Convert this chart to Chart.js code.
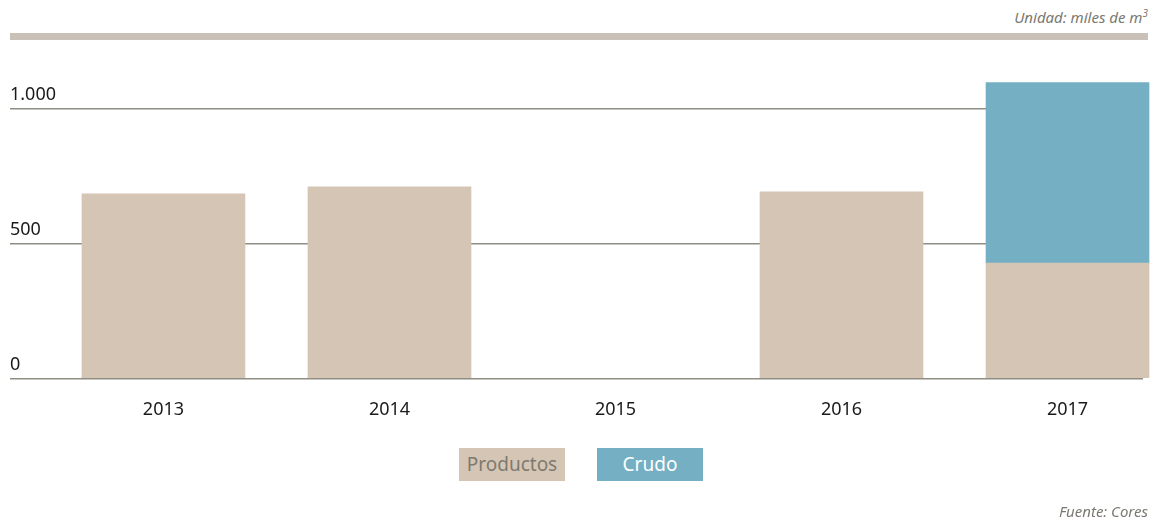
<!DOCTYPE html>
<html>
<head>
<meta charset="utf-8">
<script src="https://cdn.jsdelivr.net/npm/chart.js@4"></script>
<style>
    html, body { margin: 0; padding: 0; background: #ffffff; }
    body { width: 1152px; height: 527px; position: relative; overflow: hidden; font-family: "Noto Sans", sans-serif; }
    #chart-wrap { position: absolute; left: 0; top: 0; width: 1152px; height: 527px; }
    .unit { position: absolute; right: 4px; top: 6px; font-size: 15px; font-style: italic; color: #7a7870; }
    .band { position: absolute; left: 10px; top: 33px; width: 1138px; height: 7px; background: #c9c1b8; }
    .source { position: absolute; right: 4px; top: 501px; font-size: 15px; font-style: italic; color: #7a7870; }
    .legend { position: absolute; top: 448px; height: 33px; width: 106px; line-height: 33px; text-align: center; font-size: 19px; }
</style>
</head>
<body>
<div class="unit">Unidad: miles de m<sup style="font-size:10px">3</sup></div>
<div class="band"></div>
<div id="chart-wrap"><canvas id="cargoChart"></canvas></div>
<div id="legend"></div>
<div class="source">Fuente: Cores</div>

<script>
// datos (miles de m3)
const years = [2013, 2014, 2015, 2016, 2017];
const productos = [685, 711, null, 692, 428];
const crudo = [null, null, null, null, 670];
const yTicks = [0, 500, 1000];

const seriesNames = ['Productos', 'Crudo'];
const seriesColors = ['#d5c5b5', '#74afc3'];
const legendText = ['#7d7b70', '#ffffff'];

document.addEventListener('DOMContentLoaded', () => {

    // leyenda en cajas de color
    const legend = document.getElementById('legend');
    const legendLeft = [459, 597];
    seriesNames.forEach((name, i) => {
        const box = document.createElement('div');
        box.className = 'legend';
        box.style.left = legendLeft[i] + 'px';
        box.style.background = seriesColors[i];
        box.style.color = legendText[i];
        box.textContent = name;
        legend.appendChild(box);
    });

    const ctx = document.getElementById('cargoChart');

    new Chart(ctx, {
        type: 'bar',
        data: {
            labels: years,
            datasets: [
                {
                    label: seriesNames[0],
                    data: productos,
                    backgroundColor: seriesColors[0],
                    barThickness: 163,
                    clip: false,
                },
                {
                    label: seriesNames[1],
                    data: crudo,
                    backgroundColor: seriesColors[1],
                    barThickness: 163,
                    clip: false,
                }
            ]
        },
        options: {
            responsive: true,
            maintainAspectRatio: false,
            animation: false,
            layout: {
                padding: { top: 82, left: 10, right: 9, bottom: 93 }
            },
            plugins: {
                legend: { display: false },
                tooltip: { enabled: false }
            },
            scales: {
                x: {
                    type: 'linear',
                    stacked: true,
                    offset: false,
                    min: 2012.321,
                    max: 2017.334,
                    grid: { display: false, offset: false },
                    border: { display: false },
                    ticks: {
                        stepSize: 1,
                        includeBounds: false,
                        padding: 13,
                        color: '#1a1a1a',
                        font: { family: 'Noto Sans', size: 18 },
                        callback: (v) => String(v)
                    }
                },
                y: {
                    stacked: true,
                    min: 0,
                    max: 1100,
                    border: { display: false },
                    grid: {
                        color: '#8f8e84',
                        lineWidth: 1.5,
                        drawTicks: false
                    },
                    afterBuildTicks: (scale) => {
                        scale.ticks = yTicks.map(v => ({ value: v }));
                    },
                    ticks: {
                        mirror: true,
                        padding: 0,
                        labelOffset: -14,
                        color: '#1a1a1a',
                        font: { family: 'Noto Sans', size: 18 },
                        callback: (v) => v.toLocaleString('de-DE')
                    }
                }
            }
        }
    });

});
</script>
</body>
</html>
